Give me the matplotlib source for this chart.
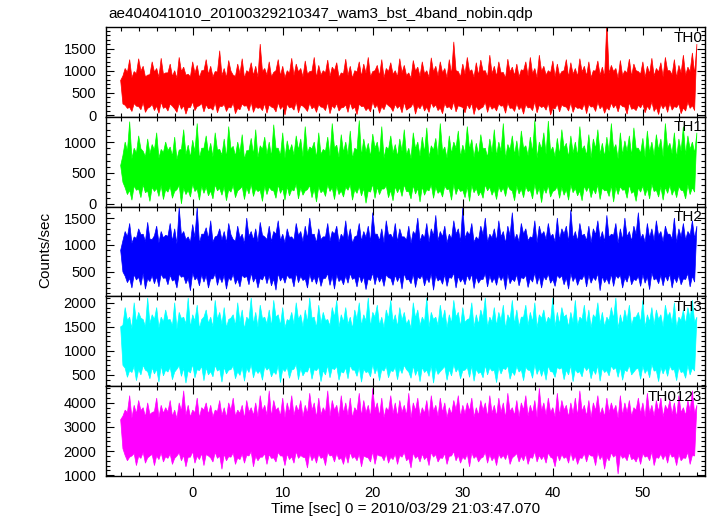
import numpy as np
import matplotlib
matplotlib.use("Agg")
import matplotlib.pyplot as plt
from matplotlib.ticker import MultipleLocator

plt.rcParams['font.family'] = ['Liberation Sans', 'DejaVu Sans']

title = "ae404041010_20100329210347_wam3_bst_4band_nobin.qdp"
xlabel = "Time [sec] 0 = 2010/03/29 21:03:47.070"
ylabel = "Counts/sec"
band_names = ["TH0", "TH1", "TH2", "TH3", "TH0123"]
band_colors = ["#ff0000", "#00ff00", "#0000ff", "#00ffff", "#ff00ff"]

# Read-off envelope of each light curve.
# *_hi : upper spikes at t_start + k*dt ; *_tv : upper-edge dips between them
# *_lo : lower spikes at t_start + dt/2 + k*dt ; *_bp : lower-edge bumps between them
t_start = -8.0
dt = 0.5

th0_hi = [780, 1050, 1250, 980, 1270, 1100, 900, 1200, 1050, 1280,
          950, 1150, 1000, 1300, 1080, 920, 1200, 1120, 1000, 1250,
          1100, 980, 1450, 1050, 1230, 900, 1150, 1270, 1000, 1180,
          1100, 1600, 1050, 1200, 960, 1250, 1100, 1000, 1280, 1150,
          1050, 1220, 980, 1300, 1120, 1000, 1240, 1080, 1180, 950,
          1260, 1100, 1000, 1200, 1150, 1300, 980, 1120, 1250, 1050,
          1180, 1000, 1270, 1120, 950, 1230, 1080, 1200, 1000, 1290,
          1100, 1200, 1050, 1250, 1650, 980, 1150, 1300, 1020, 1180,
          1240, 1000, 1350, 1100, 1200, 960, 1260, 1080, 1150, 1020,
          1200, 1300, 1050, 1350, 1100, 1000, 1220, 1150, 980, 1250,
          1180, 1050, 1270, 1100, 1200, 1000, 1220, 1080, 2100, 1120,
          1050, 1230, 1000, 1260, 1150, 980, 1200, 1100, 1280, 1050,
          1180, 1300, 1000, 1250, 1120, 1350, 1080, 1400, 1600]
th0_tv = [880, 960, 840, 930, 990, 860, 910, 970, 850, 920,
          950, 870, 830, 980, 900, 860, 940, 840, 1000, 910,
          860, 970, 890, 840, 990, 870, 930, 830, 960, 890,
          850, 980, 900, 860, 1000, 880, 840, 940, 890, 970,
          860, 920, 990, 840, 900, 950, 870, 1000, 850, 930,
          890, 830, 970, 870, 940, 860, 1000, 880, 840, 980,
          920, 860, 950, 890, 830, 990, 870, 930, 850, 970,
          880, 950, 840, 910, 1000, 860, 920, 980, 850, 890,
          990, 850, 930, 870, 950, 830, 970, 890, 860, 1000,
          880, 930, 840, 980, 900, 950, 860, 890, 1000, 850,
          920, 870, 970, 880, 840, 990, 900, 860, 940, 980,
          830, 890, 950, 870, 1000, 920, 850, 930, 880, 970,
          860, 1000, 910, 840, 950, 890, 980, 920]
th0_lo = [250, 150, 80, 200, 120, 60, 180, 100, 40, 150,
          90, 200, 60, 130, 20, 170, 100, 210, 70, 140,
          110, 50, 190, 80, 160, 30, 120, 200, 90, 60,
          150, 100, 40, 180, 70, 130, 0, 160, 110, 50,
          200, 80, 140, 60, 180, 100, 30, 150, 90, 170,
          60, 130, 10, 190, 100, 70, 160, 40, 120, 210,
          80, 150, 50, 110, 180, 20, 140, 90, 60, 170,
          100, 30, 160, 120, 70, 190, 50, 140, 10, 110,
          180, 60, 130, 90, 200, 40, 150, 80, 120, 20,
          160, 100, 50, 170, 110, 0, 140, 70, 190, 90,
          60, 150, 120, 30, 180, 80, 140, 40, 110, 160,
          70, 190, 20, 130, 100, 160, 50, 120, 80, 10,
          140, 60, 110, 170, 30, 90, 150, 100]
th0_bp = [220, 170, 260, 190, 280, 150, 240, 200, 290, 180,
          250, 140, 270, 210, 170, 300, 190, 260, 230, 160,
          280, 200, 240, 180, 270, 150, 250, 210, 290, 190,
          170, 260, 230, 160, 280, 200, 250, 180, 300, 220,
          150, 270, 190, 240, 170, 290, 210, 260, 160, 230,
          280, 180, 250, 200, 160, 300, 230, 190, 260, 170,
          240, 210, 290, 150, 270, 200, 250, 180, 280, 230,
          160, 260, 190, 300, 210, 170, 240, 270, 200, 150,
          290, 230, 180, 250, 210, 280, 160, 260, 190, 240,
          170, 300, 220, 200, 270, 150, 250, 230, 180, 280,
          200, 160, 260, 240, 190, 290, 210, 170, 270, 230,
          250, 180, 280, 150, 220, 260, 200, 300, 170, 240,
          230, 270, 190, 250, 160, 290, 210]

th1_hi = [620, 1000, 1330, 900, 1100, 850, 1050, 960, 1150, 880,
          1000, 920, 1080, 870, 1200, 950, 1030, 1300, 900, 1100,
          980, 1150, 880, 1050, 1250, 930, 1000, 1120, 860, 1060,
          1200, 940, 1080, 1000, 1280, 900, 1150, 1020, 960, 1100,
          1050, 1250, 920, 1000, 1150, 880, 1080, 1300, 950, 1120,
          1000, 1180, 900, 1350, 1050, 980, 1130, 1000, 1250, 920,
          1100, 960, 1050, 1200, 900, 1150, 1000, 1080, 1230, 940,
          1060, 1300, 920, 1100, 1000, 1180, 950, 1250, 1040, 980,
          1120, 900, 1050, 1200, 1000, 1300, 960, 1100, 1020, 1180,
          940, 1080, 1350, 1000, 1150, 1340, 920, 1060, 1200, 980,
          1100, 1000, 1250, 940, 1120, 1050, 1200, 980, 1080, 1300,
          960, 1150, 1020, 1100, 1230, 900, 1060, 1180, 1000, 1120,
          1050, 1300, 980, 1150, 1050, 1250, 1100, 1000, 1150]
th1_tv = [780, 850, 730, 820, 890, 760, 810, 870, 740, 830,
          860, 770, 720, 880, 800, 750, 840, 730, 900, 810,
          760, 870, 790, 740, 890, 770, 830, 720, 860, 790,
          750, 880, 800, 760, 900, 780, 740, 840, 790, 870,
          760, 820, 890, 740, 800, 850, 770, 900, 750, 830,
          790, 730, 870, 770, 840, 760, 900, 780, 740, 880,
          820, 760, 850, 790, 730, 890, 770, 830, 750, 870,
          780, 850, 740, 810, 900, 760, 820, 880, 750, 790,
          890, 750, 830, 770, 850, 730, 870, 790, 760, 900,
          780, 830, 740, 880, 800, 850, 760, 790, 900, 750,
          820, 770, 870, 780, 740, 890, 800, 760, 840, 880,
          730, 790, 850, 770, 900, 820, 750, 830, 780, 870,
          760, 900, 810, 740, 850, 790, 880, 820]
th1_lo = [350, 150, 60, 220, 100, 180, 40, 200, 120, 70,
          190, 90, 230, 0, 150, 110, 200, 60, 170, 130,
          80, 210, 140, 50, 190, 100, 240, 70, 160, 120,
          200, 40, 150, 220, 90, 170, 60, 130, 210, 80,
          140, 230, 100, 30, 180, 120, 200, 70, 150, 110,
          220, 60, 170, 130, 10, 190, 90, 150, 240, 100,
          50, 180, 120, 200, 80, 160, 30, 140, 210, 90,
          170, 110, 230, 60, 150, 200, 100, 40, 180, 130,
          90, 210, 140, 70, 190, 120, 230, 50, 160, 100,
          200, 80, 150, 20, 170, 110, 220, 90, 140, 60,
          180, 130, 50, 200, 100, 160, 70, 210, 120, 30,
          150, 220, 90, 170, 40, 190, 130, 80, 200, 110,
          60, 170, 140, 100, 220, 80, 150, 190]
th1_bp = [260, 220, 290, 240, 310, 210, 270, 250, 300, 230,
          280, 200, 300, 260, 220, 320, 240, 290, 270, 210,
          310, 250, 280, 230, 300, 210, 280, 260, 320, 240,
          220, 290, 270, 210, 310, 250, 280, 230, 320, 260,
          210, 300, 240, 280, 220, 310, 260, 290, 210, 270,
          310, 230, 280, 250, 210, 320, 270, 240, 290, 220,
          280, 260, 310, 200, 300, 250, 280, 230, 310, 270,
          210, 290, 240, 320, 260, 220, 280, 300, 250, 200,
          310, 270, 230, 280, 260, 300, 210, 290, 240, 280,
          220, 320, 260, 250, 300, 200, 280, 270, 230, 310,
          250, 210, 290, 280, 240, 310, 260, 220, 300, 270,
          280, 230, 310, 200, 260, 290, 250, 320, 220, 280,
          270, 300, 240, 280, 210, 310, 260]

th2_hi = [900, 1250, 1400, 1150, 1300, 1200, 1420, 1100, 1350, 1250,
          1180, 1400, 1300, 1700, 1250, 1150, 1380, 1700, 1200, 1320,
          1450, 1150, 1300, 1250, 1400, 1100, 1350, 1200, 1500, 1250,
          1300, 1420, 1150, 1350, 1250, 1450, 1200, 1300, 1150, 1400,
          1250, 1350, 1500, 1200, 1300, 1150, 1400, 1250, 1350, 1200,
          1450, 1300, 1150, 1400, 1250, 1350, 1600, 1200, 1300, 1450,
          1200, 1400, 1300, 1150, 1350, 1250, 1500, 1200, 1400, 1300,
          1550, 1250, 1350, 1200, 1450, 1300, 1700, 1250, 1400, 1150,
          1350, 1500, 1200, 1300, 1450, 1250, 1350, 1600, 1200, 1400,
          1300, 1150, 1450, 1350, 1250, 1400, 1200, 1500, 1300, 1350,
          1650, 1250, 1400, 1200, 1350, 1300, 1450, 1250, 1550, 1200,
          1400, 1300, 1500, 1250, 1350, 1600, 1200, 1400, 1300, 1450,
          1250, 1350, 1200, 1500, 1300, 1400, 1250, 1450, 1350]
th2_tv = [1080, 1150, 1030, 1120, 1190, 1060, 1110, 1170, 1040, 1130,
          1160, 1070, 1020, 1180, 1100, 1050, 1140, 1030, 1200, 1110,
          1060, 1170, 1090, 1040, 1190, 1070, 1130, 1020, 1160, 1090,
          1050, 1180, 1100, 1060, 1200, 1080, 1040, 1140, 1090, 1170,
          1060, 1120, 1190, 1040, 1100, 1150, 1070, 1200, 1050, 1130,
          1090, 1030, 1170, 1070, 1140, 1060, 1200, 1080, 1040, 1180,
          1120, 1060, 1150, 1090, 1030, 1190, 1070, 1130, 1050, 1170,
          1080, 1150, 1040, 1110, 1200, 1060, 1120, 1180, 1050, 1090,
          1190, 1050, 1130, 1070, 1150, 1030, 1170, 1090, 1060, 1200,
          1080, 1130, 1040, 1180, 1100, 1150, 1060, 1090, 1200, 1050,
          1120, 1070, 1170, 1080, 1040, 1190, 1100, 1060, 1140, 1180,
          1030, 1090, 1150, 1070, 1200, 1120, 1050, 1130, 1080, 1170,
          1060, 1200, 1110, 1040, 1150, 1090, 1180, 1120]
th2_lo = [500, 300, 200, 350, 250, 180, 320, 280, 220, 380,
          260, 330, 200, 400, 280, 150, 350, 240, 310, 200,
          370, 250, 300, 180, 340, 270, 220, 390, 260, 310,
          200, 350, 280, 240, 160, 330, 290, 380, 220, 300,
          340, 200, 310, 270, 230, 380, 250, 180, 320, 260,
          290, 360, 220, 300, 170, 340, 260, 310, 230, 390,
          250, 320, 180, 350, 280, 210, 370, 240, 300, 160,
          330, 270, 230, 380, 200, 310, 260, 340, 190, 290,
          360, 220, 300, 250, 340, 170, 280, 320, 240, 370,
          210, 310, 270, 200, 350, 290, 230, 380, 260, 180,
          320, 250, 360, 220, 290, 340, 150, 300, 270, 230,
          380, 200, 310, 260, 340, 230, 290, 170, 350, 280,
          240, 330, 200, 300, 260, 360, 220, 310]
th2_bp = [420, 380, 450, 400, 470, 370, 430, 410, 460, 390,
          440, 360, 460, 420, 380, 480, 400, 450, 430, 370,
          470, 410, 440, 390, 460, 370, 440, 420, 480, 400,
          380, 450, 430, 370, 470, 410, 440, 390, 480, 420,
          370, 460, 400, 440, 380, 470, 420, 450, 370, 430,
          470, 390, 440, 410, 370, 480, 430, 400, 450, 380,
          440, 420, 470, 360, 460, 410, 440, 390, 470, 430,
          370, 450, 400, 480, 420, 380, 440, 460, 410, 360,
          470, 430, 390, 440, 420, 460, 370, 450, 400, 440,
          380, 480, 420, 410, 460, 360, 440, 430, 390, 470,
          410, 370, 450, 440, 400, 470, 420, 380, 460, 430,
          440, 390, 470, 360, 420, 450, 410, 480, 380, 440,
          430, 460, 400, 440, 370, 470, 420]

th3_hi = [1500, 1900, 1700, 2000, 1800, 1650, 2100, 1750, 1900, 1700,
          1850, 1650, 2000, 1800, 1700, 2100, 1750, 1950, 1650, 1850,
          1700, 2050, 1800, 1900, 1650, 1750, 2000, 1850, 1700, 2100,
          1800, 1950, 1700, 1850, 2050, 1750, 1900, 1650, 1800, 2000,
          1750, 1850, 2100, 1700, 1950, 1800, 1650, 1900, 2050, 1750,
          1900, 1700, 1850, 2000, 1750, 2100, 1800, 1950, 1700, 1850,
          2050, 1750, 1900, 1800, 1650, 2000, 1850, 1700, 2100, 1800,
          1700, 1950, 1850, 1750, 2050, 1800, 1900, 1650, 2000, 1750,
          1850, 2100, 1700, 1900, 1800, 1950, 1750, 2050, 1850, 1700,
          1950, 1800, 2000, 1750, 1850, 1700, 2100, 1800, 1900, 1750,
          1800, 2050, 1700, 1950, 1850, 1750, 2000, 1800, 1700, 1900,
          2100, 1750, 1850, 1950, 1700, 1800, 2050, 1750, 1900, 1850,
          1750, 1950, 1800, 2000, 1700, 1850, 1900, 2050, 1700]
th3_tv = [1530, 1630, 1460, 1590, 1680, 1500, 1570, 1650, 1480, 1600,
          1640, 1520, 1450, 1670, 1560, 1490, 1620, 1460, 1700, 1570,
          1500, 1650, 1550, 1480, 1680, 1520, 1600, 1450, 1640, 1550,
          1490, 1670, 1560, 1500, 1700, 1530, 1480, 1620, 1550, 1650,
          1500, 1590, 1680, 1480, 1560, 1630, 1520, 1700, 1490, 1600,
          1550, 1460, 1650, 1520, 1620, 1500, 1700, 1530, 1480, 1670,
          1590, 1500, 1630, 1550, 1460, 1680, 1520, 1600, 1490, 1650,
          1530, 1630, 1480, 1570, 1700, 1500, 1590, 1670, 1490, 1550,
          1680, 1490, 1600, 1520, 1630, 1460, 1650, 1550, 1500, 1700,
          1530, 1600, 1480, 1670, 1560, 1630, 1500, 1550, 1700, 1490,
          1590, 1520, 1650, 1530, 1480, 1680, 1560, 1500, 1620, 1670,
          1460, 1550, 1630, 1520, 1700, 1590, 1490, 1600, 1530, 1650,
          1500, 1700, 1570, 1480, 1630, 1550, 1670, 1590]
th3_lo = [700, 450, 550, 380, 500, 600, 420, 520, 350, 480,
          560, 400, 620, 470, 330, 540, 440, 590, 380, 500,
          460, 580, 350, 520, 610, 420, 490, 370, 550, 440,
          530, 390, 600, 460, 510, 340, 570, 430, 620, 400,
          480, 560, 410, 590, 360, 500, 440, 610, 390, 540,
          420, 600, 470, 350, 550, 460, 520, 380, 580, 440,
          570, 400, 530, 610, 430, 490, 360, 550, 470, 330,
          510, 620, 390, 480, 560, 420, 600, 450, 370, 530,
          440, 500, 580, 340, 520, 610, 410, 490, 560, 380,
          600, 430, 510, 470, 390, 570, 450, 620, 400, 500,
          360, 540, 460, 590, 420, 510, 370, 550, 480, 610,
          450, 390, 570, 500, 620, 410, 530, 440, 580, 360,
          520, 470, 600, 380, 550, 430, 500, 580]
th3_bp = [640, 590, 680, 610, 700, 570, 650, 620, 690, 600,
          660, 560, 690, 640, 590, 720, 610, 680, 650, 570,
          700, 620, 660, 600, 690, 570, 660, 640, 720, 610,
          590, 680, 650, 570, 700, 620, 660, 600, 720, 640,
          570, 690, 610, 660, 590, 700, 640, 680, 570, 650,
          700, 600, 660, 620, 570, 720, 650, 610, 680, 590,
          660, 640, 700, 560, 690, 620, 660, 600, 700, 650,
          570, 680, 610, 720, 640, 590, 660, 690, 620, 560,
          700, 650, 600, 660, 640, 690, 570, 680, 610, 660,
          590, 720, 640, 620, 690, 560, 660, 650, 600, 700,
          620, 570, 680, 660, 610, 700, 640, 590, 690, 650,
          660, 600, 700, 560, 640, 680, 620, 720, 590, 660,
          650, 690, 610, 660, 570, 700, 640]

th0123_hi = [3300, 3700, 4300, 3900, 4100, 3800, 4000, 3600, 4200, 3900,
             3800, 4100, 3700, 4000, 4500, 3900, 3700, 4200, 3800, 4000,
             3900, 3700, 4100, 3800, 4000, 4200, 3700, 3900, 4100, 3800,
             4000, 4300, 3900, 4500, 4100, 3800, 4200, 4000, 4300, 3900,
             4100, 3900, 4400, 4000, 4200, 3800, 4500, 4100, 3900, 4300,
             4000, 4200, 3800, 4400, 4100, 3900, 4600, 4000, 4200, 3800,
             4300, 4000, 4100, 3900, 4400, 4000, 4200, 3800, 4100, 4300,
             3900, 4200, 4000, 3800, 4100, 4300, 3900, 4000, 4200, 3800,
             4100, 4000, 4300, 3900, 4200, 4000, 4400, 3800, 4100, 4000,
             4300, 3900, 4100, 4600, 4000, 4200, 3800, 4400, 4100, 3900,
             4000, 4200, 4500, 3900, 4100, 4000, 4300, 3800, 4200, 4000,
             3900, 4300, 4000, 4100, 3800, 4200, 4000, 4400, 3900, 4100,
             4200, 3900, 4100, 4000, 4300, 3800, 4100, 4500, 3900]
th0123_tv = [3450, 3600, 3370, 3550, 3680, 3420, 3520, 3640, 3390, 3570,
             3620, 3440, 3350, 3660, 3500, 3410, 3590, 3370, 3700, 3520,
             3420, 3640, 3480, 3390, 3680, 3440, 3570, 3350, 3620, 3480,
             3410, 3660, 3500, 3420, 3700, 3450, 3390, 3590, 3480, 3640,
             3420, 3550, 3680, 3390, 3500, 3600, 3440, 3700, 3410, 3570,
             3480, 3370, 3640, 3440, 3590, 3420, 3700, 3450, 3390, 3660,
             3550, 3420, 3600, 3480, 3370, 3680, 3440, 3570, 3410, 3640,
             3450, 3600, 3390, 3520, 3700, 3420, 3550, 3660, 3410, 3480,
             3680, 3410, 3570, 3440, 3600, 3370, 3640, 3480, 3420, 3700,
             3450, 3570, 3390, 3660, 3500, 3600, 3420, 3480, 3700, 3410,
             3550, 3440, 3640, 3450, 3390, 3680, 3500, 3420, 3590, 3660,
             3370, 3480, 3600, 3440, 3700, 3550, 3410, 3570, 3450, 3640,
             3420, 3700, 3520, 3390, 3600, 3480, 3660, 3550]
th0123_lo = [2100, 1600, 1800, 1400, 1700, 1500, 1800, 1400, 1650, 1550,
             1700, 1450, 1800, 1600, 1350, 1750, 1500, 1650, 1400, 1800,
             1550, 1700, 1250, 1600, 1750, 1450, 1650, 1500, 1800, 1350,
             1600, 1750, 1450, 1700, 1550, 1800, 1400, 1650, 1500, 1700,
             1750, 1300, 1600, 1500, 1700, 1400, 1800, 1550, 1650, 1450,
             1500, 1700, 1600, 1350, 1750, 1550, 1450, 1800, 1600, 1500,
             1650, 1450, 1750, 1600, 1300, 1700, 1550, 1650, 1400, 1750,
             1550, 1700, 1450, 1800, 1600, 1500, 1650, 1350, 1700, 1550,
             1750, 1500, 1600, 1400, 1700, 1650, 1450, 1800, 1550, 1600,
             1450, 1700, 1550, 1650, 1500, 1750, 1350, 1600, 1700, 1500,
             1600, 1450, 1700, 1550, 1800, 1400, 1650, 1250, 1600, 1750,
             1050, 1700, 1600, 1650, 1550, 1450, 1750, 1600, 1400, 1700,
             1650, 1500, 1750, 1400, 1600, 1700, 1450, 1800]
th0123_bp = [1820, 1750, 1900, 1790, 1950, 1720, 1860, 1800, 1930, 1770,
             1880, 1700, 1930, 1820, 1750, 1980, 1790, 1900, 1860, 1720,
             1950, 1800, 1880, 1770, 1930, 1720, 1880, 1820, 1980, 1790,
             1750, 1900, 1860, 1720, 1950, 1800, 1880, 1770, 1980, 1820,
             1720, 1930, 1790, 1880, 1750, 1950, 1820, 1900, 1720, 1860,
             1950, 1770, 1880, 1800, 1720, 1980, 1860, 1790, 1900, 1750,
             1880, 1820, 1950, 1700, 1930, 1800, 1880, 1770, 1950, 1860,
             1720, 1900, 1790, 1980, 1820, 1750, 1880, 1930, 1800, 1700,
             1950, 1860, 1770, 1880, 1820, 1930, 1720, 1900, 1790, 1880,
             1750, 1980, 1820, 1800, 1930, 1700, 1880, 1860, 1770, 1950,
             1800, 1720, 1900, 1880, 1790, 1950, 1820, 1750, 1930, 1860,
             1880, 1770, 1950, 1700, 1820, 1900, 1800, 1980, 1750, 1880,
             1860, 1930, 1790, 1880, 1720, 1950, 1820]

series_hi = [th0_hi, th1_hi, th2_hi, th3_hi, th0123_hi]
series_tv = [th0_tv, th1_tv, th2_tv, th3_tv, th0123_tv]
series_lo = [th0_lo, th1_lo, th2_lo, th3_lo, th0123_lo]
series_bp = [th0_bp, th1_bp, th2_bp, th3_bp, th0123_bp]

ylims = [(-40, 1985), (-44, 1408), (45, 1712), (266, 2131), (970, 4690)]
ymajor = [500, 500, 500, 500, 1000]
yminor = [100, 100, 100, 100, 200]
xlim = (-9.63, 56.9)


def merge(a, b):
    out = np.empty(len(a) + len(b))
    out[0::2] = a
    out[1::2] = b
    return out


def envelope_polygon(hi, tv, lo, bp):
    hi, tv, lo, bp = (np.asarray(v, float) for v in (hi, tv, lo, bp))
    t_hi = t_start + dt * np.arange(len(hi))
    t_tv = t_start + dt / 2 + dt * np.arange(len(tv))
    t_lo = t_start + dt / 2 + dt * np.arange(len(lo))
    t_bp = t_start + dt + dt * np.arange(len(bp))
    top_t, top_y = merge(t_hi, t_tv), merge(hi, tv)
    bot_t, bot_y = merge(t_lo, t_bp), merge(lo, bp)
    px = np.concatenate([top_t, bot_t[::-1]])
    py = np.concatenate([top_y, bot_y[::-1]])
    return px, py


fig = plt.figure(figsize=(7.17, 5.16), dpi=100)
left, width = 106 / 717, (705 - 106) / 717
top_px, bot_px = 27, 476
h = (bot_px - top_px) / 5 / 516

axes = []
for i in range(5):
    bottom = 1 - (top_px / 516) - (i + 1) * h
    ax = fig.add_axes([left, bottom, width, h])
    axes.append(ax)
    px, py = envelope_polygon(series_hi[i], series_tv[i],
                              series_lo[i], series_bp[i])
    ax.fill(px, py, facecolor=band_colors[i], edgecolor=band_colors[i],
            lw=0.5)
    ax.set_xlim(*xlim)
    ax.set_ylim(*ylims[i])
    ax.xaxis.set_major_locator(MultipleLocator(10))
    ax.xaxis.set_minor_locator(MultipleLocator(2))
    ax.yaxis.set_major_locator(MultipleLocator(ymajor[i]))
    ax.yaxis.set_minor_locator(MultipleLocator(yminor[i]))
    ax.tick_params(which='both', direction='in', top=True, right=True,
                   labelsize=10.5, width=0.8)
    ax.tick_params(which='major', length=6, pad=7)
    ax.tick_params(which='minor', length=3)
    for sp in ax.spines.values():
        sp.set_linewidth(1.0)
    ax.text(0.995, 0.96, band_names[i], transform=ax.transAxes,
            ha='right', va='top', fontsize=11)
    if i < 4:
        ax.tick_params(labelbottom=False)

axes[-1].set_xlabel(xlabel, fontsize=11, labelpad=2)
fig.text(108 / 717, 1 - 18 / 516, title, fontsize=11, ha='left', va='baseline')
fig.text(45 / 717, 1 - 250 / 516, ylabel, fontsize=11, rotation=90,
         ha='center', va='center')

fig.savefig("out.png", dpi=100)
